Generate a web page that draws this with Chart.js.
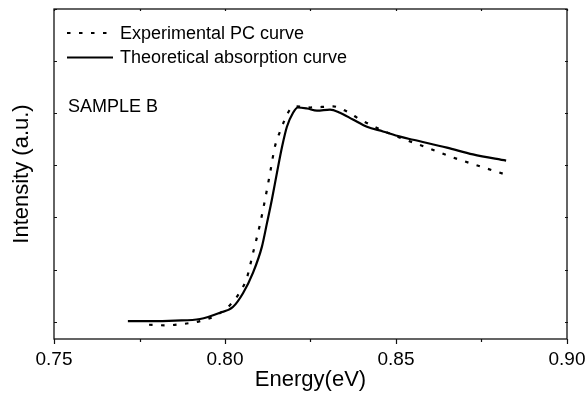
<!DOCTYPE html>
<html><head><meta charset="utf-8">
<script src="https://cdn.jsdelivr.net/npm/chart.js@4/dist/chart.umd.min.js"></script>
<style>html,body{margin:0;padding:0;background:#fff}#wrap{width:586px;height:396px}</style>
</head><body><div id="wrap"><canvas id="c" width="586" height="396"></canvas></div>
<script>
// ---- data ----
const energyTheory = [0.7716,0.7781,0.7854,0.7927,0.7985,0.8023,0.8053,0.8082,0.8108,0.8123,0.8137,0.8152,0.8167,0.8181,0.8199,0.8213,0.8240,0.8269,0.8307,0.8336,0.8374,0.8415,0.8462,0.8512,0.8550,0.8649,0.8725,0.8822];
const intensityTheory = [0.01,0.01,0.02,0.05,0.17,0.28,0.55,0.94,1.44,1.90,2.34,2.86,3.36,3.74,4.01,4.11,4.09,4.05,4.07,4.01,3.88,3.74,3.65,3.55,3.49,3.34,3.21,3.09];
const energyExp = [0.7778,0.7825,0.7883,0.7927,0.7971,0.8015,0.8044,0.8064,0.8082,0.8102,0.8117,0.8132,0.8146,0.8161,0.8175,0.8190,0.8205,0.8249,0.8316,0.8357,0.8395,0.8453,0.8512,0.8591,0.8667,0.8746,0.8822];
const intensityExp = [-0.06,-0.07,-0.04,0.01,0.11,0.32,0.57,0.84,1.32,1.86,2.34,2.86,3.36,3.65,3.88,4.07,4.13,4.11,4.13,4.03,3.88,3.69,3.53,3.34,3.15,2.98,2.82];
const xTickValues = [0.75,0.80,0.85,0.90];
const xTickLabels = ['0.75','0.80','0.85','0.90'];
const xMinorTicks = [0.775,0.825,0.875];
const yTickValues = [0,1,2,3,4,5,6];
const seriesNames = ['Experimental PC curve','Theoretical absorption curve'];
const sampleLabel = 'SAMPLE B';
const xTitle = 'Energy(eV)';
const yTitle = 'Intensity (a.u.)';

const FONT = "'Liberation Sans', Arial, Helvetica, sans-serif";
const toPts = (xs, ys) => xs.map((x, i) => ({x: x, y: ys[i]}));

const framePlugin = {
  id: 'frame',
  afterDraw(chart) {
    const ctx = chart.ctx, a = chart.chartArea;
    const xs = chart.scales.x, ys = chart.scales.y;
    ctx.save();
    ctx.strokeStyle = '#111';
    ctx.lineWidth = 1.3;
    ctx.strokeRect(a.left, a.top, a.right - a.left, a.bottom - a.top);
    ctx.lineWidth = 1.2;
    ctx.beginPath();
    xTickValues.forEach(v => {
      const px = Math.round(xs.getPixelForValue(v)) + 0.5;
      ctx.moveTo(px, a.bottom); ctx.lineTo(px, a.bottom + 5);
      ctx.moveTo(px, a.top); ctx.lineTo(px, a.top + 2);
    });
    xMinorTicks.forEach(v => {
      const px = Math.round(xs.getPixelForValue(v)) + 0.5;
      ctx.moveTo(px, a.bottom); ctx.lineTo(px, a.bottom + 3);
      ctx.moveTo(px, a.top); ctx.lineTo(px, a.top + 2);
    });
    yTickValues.forEach(v => {
      const py = Math.round(ys.getPixelForValue(v)) + 0.5;
      ctx.moveTo(a.left, py); ctx.lineTo(a.left + 3, py);
      ctx.moveTo(a.right - 2, py); ctx.lineTo(a.right + 1, py);
    });
    ctx.stroke();

    // legend inside the plot
    const ds = chart.data.datasets;
    const lx0 = a.left + 13, lx1 = a.left + 59;
    const rows = [a.top + 24, a.top + 48.5];
    ctx.font = '18px ' + FONT;
    ctx.fillStyle = '#000';
    ctx.textBaseline = 'middle';
    ds.forEach((d, i) => {
      ctx.beginPath();
      ctx.strokeStyle = d.borderColor;
      ctx.lineWidth = d.borderWidth;
      ctx.setLineDash(d.borderDash || []);
      ctx.lineDashOffset = 0;
      ctx.moveTo(lx0, rows[i]); ctx.lineTo(lx1, rows[i]);
      ctx.stroke();
      ctx.setLineDash([]);
      ctx.fillText(d.label, a.left + 66, rows[i] + 1);
    });
    ctx.fillText(sampleLabel, a.left + 14, a.top + 98);
    ctx.restore();
  }
};

new Chart(document.getElementById('c'), {
  type: 'line',
  data: {
    datasets: [
      {label: seriesNames[0], data: toPts(energyExp, intensityExp), borderColor: '#000', borderWidth: 2.2,
       borderDash: [3.5, 8.5], pointRadius: 0, cubicInterpolationMode: 'monotone', fill: false},
      {label: seriesNames[1], data: toPts(energyTheory, intensityTheory), borderColor: '#000', borderWidth: 2.2,
       pointRadius: 0, cubicInterpolationMode: 'monotone', fill: false}
    ]
  },
  options: {
    responsive: false,
    animation: false,
    devicePixelRatio: 1,
    layout: {padding: {left: 0, top: 9, right: 19, bottom: 0}},
    plugins: {legend: {display: false}, tooltip: {enabled: false}},
    scales: {
      x: {
        type: 'linear', min: 0.75, max: 0.90,
        afterBuildTicks: s => { s.ticks = xTickValues.map(v => ({value: v})); },
        afterFit: s => { s.height = 57; s.paddingLeft = 0; s.paddingRight = 0; },
        grid: {display: false, drawTicks: false},
        border: {display: false},
        ticks: {
          padding: 9, color: '#000', font: {family: FONT, size: 19}, maxRotation: 0,
          callback: (v, i) => xTickLabels[i]
        },
        title: {display: true, text: xTitle, color: '#000', font: {family: FONT, size: 22}, padding: {top: 0, bottom: 3}}
      },
      y: {
        type: 'linear', min: -0.333, max: 6,
        afterFit: s => { s.width = 54; s.paddingTop = 0; s.paddingBottom = 0; },
        grid: {display: false, drawTicks: false},
        border: {display: false},
        ticks: {display: false},
        title: {display: true, text: yTitle, color: '#000', font: {family: FONT, size: 22}, padding: {top: 9, bottom: 0}}
      }
    }
  },
  plugins: [framePlugin]
});
</script>
</body></html>
